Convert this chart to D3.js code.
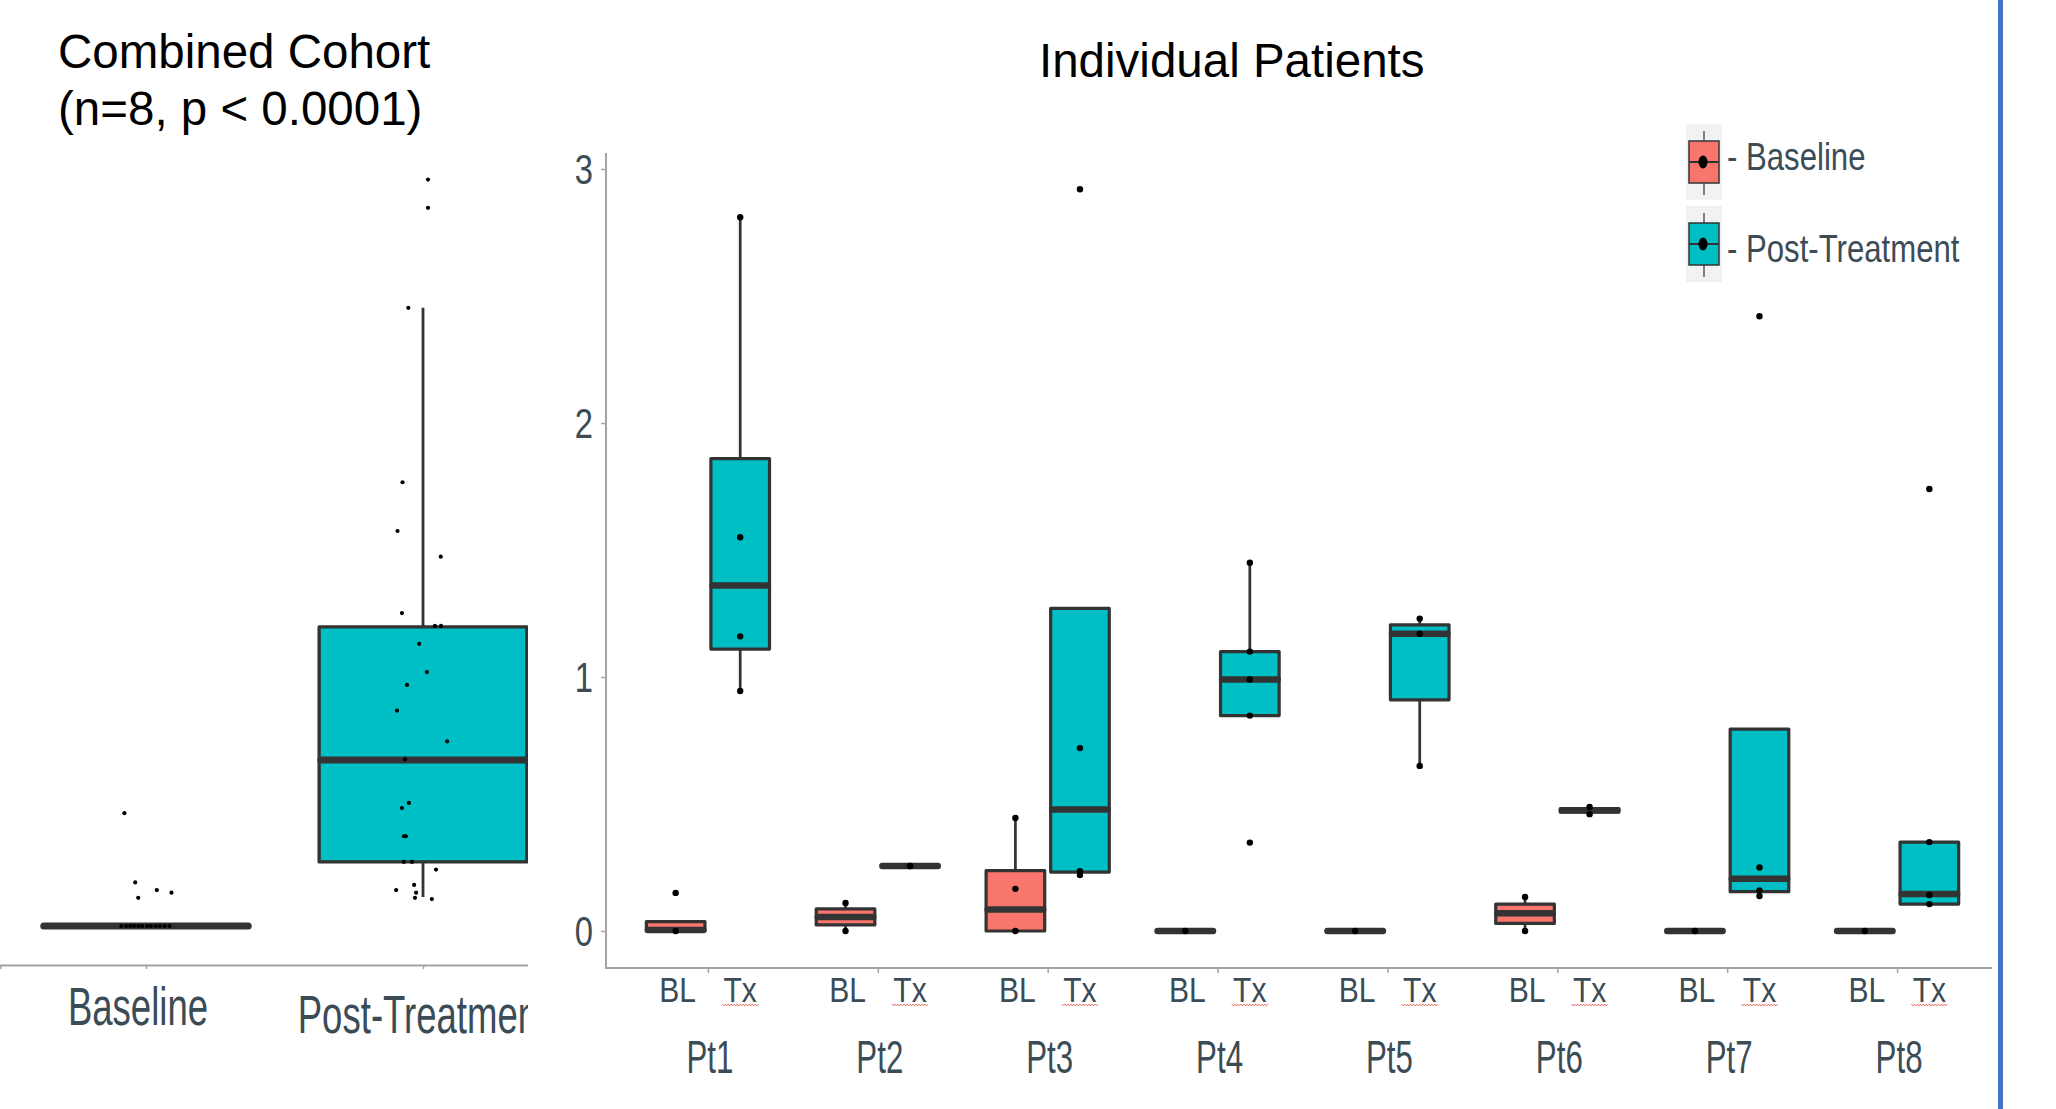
<!DOCTYPE html>
<html>
<head>
<meta charset="utf-8">
<script src="https://cdn.jsdelivr.net/npm/d3@7"></script>
<style>
    body { margin: 0; background: #ffffff; }
    svg { display: block; font-family: "Liberation Sans", Arial, sans-serif; }
</style>
</head>
<body>
<svg id="grafico" width="2056" height="1109"></svg>
<script>

// ---- datos: cohorte combinada ----
var gruposCombinados = ["Baseline", "Post-Treatment"];
// [bigote inf, q1, mediana, q3, bigote sup]
var cajaCombinada = [
    [0, 0, 0, 0, 0],
    [0.113, 0.25, 0.647, 1.166, 2.41]
];
var baselineValores = [0.44, 0.17, 0.11, 0.14, 0.13, 0, 0, 0, 0, 0, 0, 0, 0, 0, 0, 0, 0];
var baselineJitter = [-0.078, -0.039, -0.028, 0.039, 0.092, -0.089, -0.072, -0.057, -0.043, -0.028, -0.014, 0.004, 0.018, 0.035, 0.05, 0.067, 0.085];
var postValores = [2.91, 2.80, 2.41, 1.73, 1.54, 1.44, 1.22, 1.17, 1.17, 1.10, 0.99, 0.94, 0.84, 0.72, 0.65, 0.48, 0.46, 0.35, 0.35, 0.25, 0.25, 0.22, 0.16, 0.14, 0.13, 0.11, 0.105];
var postJitter = [0.018, 0.018, -0.053, -0.074, -0.092, 0.064, -0.076, 0.043, 0.065, -0.014, 0.014, -0.058, -0.094, 0.087, -0.065, -0.051, -0.076, -0.069, -0.062, -0.069, -0.040, 0.047, -0.032, -0.097, -0.025, -0.029, 0.032];

// ---- datos: pacientes individuales ----
var pacientes = ["Pt1", "Pt2", "Pt3", "Pt4", "Pt5", "Pt6", "Pt7", "Pt8"];
var subGrupos = ["BL", "Tx"];
var leyenda = ["Baseline", "Post-Treatment"];
var ticksY = [0, 1, 2, 3];

var cajaBL = [
    [0, 0, 0.004, 0.037, 0.037],
    [0, 0.024, 0.055, 0.087, 0.11],
    [0, 0, 0.085, 0.238, 0.445],
    [0, 0, 0, 0, 0],
    [0, 0, 0, 0, 0],
    [0, 0.03, 0.07, 0.106, 0.134],
    [0, 0, 0, 0, 0],
    [0, 0, 0, 0, 0]
];
var puntosBL = [
    [0, 0.15],
    [0, 0.11],
    [0, 0.166, 0.445],
    [0],
    [0],
    [0, 0.134],
    [0],
    [0]
];
var cajaTx = [
    [0.945, 1.11, 1.36, 1.86, 2.81],
    [0.256, 0.256, 0.256, 0.256, 0.256],
    [0.22, 0.232, 0.478, 1.27, 1.27],
    [0.848, 0.848, 0.99, 1.10, 1.45],
    [0.65, 0.91, 1.17, 1.205, 1.23],
    [0.46, 0.468, 0.475, 0.482, 0.49],
    [0.138, 0.155, 0.206, 0.795, 0.795],
    [0.106, 0.106, 0.146, 0.35, 0.35]
];
var puntosTx = [
    [0.945, 1.16, 1.55, 2.81],
    [0.256, 0.256],
    [0.22, 0.235, 0.72, 2.92],
    [0.348, 0.848, 0.99, 1.10, 1.45],
    [0.65, 1.17, 1.23],
    [0.46, 0.488],
    [0.138, 0.16, 0.25, 2.42],
    [0.106, 0.142, 0.35, 1.74]
];

// ---- estilos ----
var colorBL = "#F8766D";
var colorTx = "#00BFC4";
var colorBorde = "#333333";
var colorTexto = "#3b4c56";
var colorEje = "#a3a3a3";

var svg = d3.select("#grafico");

InicializaGrafico();


function InicializaGrafico() {
    dibujaPanelCombinado();
    dibujaPanelPacientes();
    dibujaLeyenda();

    // linea azul del borde de la diapositiva
    svg.append("rect")
        .attr("x", 1998).attr("y", 0)
        .attr("width", 5).attr("height", 1109)
        .attr("fill", "#4472c4");
}


function textoAngosto(g, x, y, txt, size, sx, anchor, color) {
    return g.append("text")
        .attr("transform", "translate(" + x + "," + y + ") scale(" + sx + ",1)")
        .attr("text-anchor", anchor)
        .attr("font-size", size)
        .attr("fill", color)
        .text(txt);
}


function dibujaCaja(g, cx, ancho, stats, y, relleno, lw, mw) {
    var lo = stats[0], q1 = stats[1], med = stats[2], q3 = stats[3], hi = stats[4];
    g.append("line")
        .attr("x1", cx).attr("x2", cx)
        .attr("y1", y(q3)).attr("y2", y(hi))
        .attr("stroke", colorBorde).attr("stroke-width", lw * 0.85);
    g.append("line")
        .attr("x1", cx).attr("x2", cx)
        .attr("y1", y(q1)).attr("y2", y(lo))
        .attr("stroke", colorBorde).attr("stroke-width", lw * 0.85);
    g.append("rect")
        .attr("x", cx - ancho / 2)
        .attr("y", y(q3))
        .attr("width", ancho)
        .attr("height", y(q1) - y(q3))
        .attr("fill", relleno)
        .attr("stroke", colorBorde)
        .attr("stroke-width", lw)
        .attr("stroke-linejoin", "round");
    g.append("line")
        .attr("x1", cx - ancho / 2 + lw / 2).attr("x2", cx + ancho / 2 - lw / 2)
        .attr("y1", y(med)).attr("y2", y(med))
        .attr("stroke", colorBorde)
        .attr("stroke-width", mw)
        .attr("stroke-linecap", "round");
}


function dibujaPanelCombinado() {
    svg.append("clipPath").attr("id", "clipIzq")
        .append("rect").attr("x", 0).attr("y", 0).attr("width", 528).attr("height", 1109);

    var g = svg.append("g").attr("clip-path", "url(#clipIzq)");

    var x = d3.scalePoint().domain(gruposCombinados).range([0, 569]).padding(0.527);
    var y = d3.scaleLinear().domain([0, 3]).range([926, 156.5]);
    var paso = x.step();
    var ancho = paso * 0.75;

    // eje x
    var eje = g.append("g")
        .attr("transform", "translate(0,965)")
        .call(d3.axisBottom(x).tickSize(4).tickFormat(""));
    eje.select(".domain").attr("stroke", colorEje).attr("stroke-width", 2);
    eje.selectAll(".tick line").attr("stroke", colorEje).attr("stroke-width", 1.5);

    gruposCombinados.forEach(function (d, i) {
        dibujaCaja(g, x(d), ancho, cajaCombinada[i], y, i == 0 ? colorBL : colorTx, 3.3, 7);
        textoAngosto(g, x(d) - (i == 0 ? 8 : 0), i == 0 ? 1025 : 1033, d, 53, 0.69, "middle", colorTexto);
    });

    g.selectAll(".ptoBase")
        .data(baselineValores)
        .enter().append("circle")
        .attr("cx", function (d, i) { return x("Baseline") + baselineJitter[i] * paso; })
        .attr("cy", function (d) { return y(d); })
        .attr("r", 2.1)
        .attr("fill", "#000");

    g.selectAll(".ptoPost")
        .data(postValores)
        .enter().append("circle")
        .attr("cx", function (d, i) { return x("Post-Treatment") + postJitter[i] * paso; })
        .attr("cy", function (d) { return y(d); })
        .attr("r", 2.1)
        .attr("fill", "#000");

    svg.append("text").attr("x", 58).attr("y", 68)
        .attr("font-size", 47.5).attr("fill", "#000").text("Combined Cohort");
    svg.append("text").attr("x", 58).attr("y", 125)
        .attr("font-size", 47.5).attr("fill", "#000").text("(n=8, p < 0.0001)");
}


function dibujaPanelPacientes() {
    var g = svg.append("g");

    var x = d3.scalePoint().domain(pacientes).range([606, 1999]).padding(0.6);
    var y = d3.scaleLinear().domain([0, 3]).range([931, 169]);
    var paso = x.step();
    var desplaza = paso * 0.19;
    var ancho = paso * 0.345;

    // eje y
    var ejeY = g.append("g")
        .attr("transform", "translate(606,0)")
        .call(d3.axisLeft(y).tickValues(ticksY).tickSize(5).tickFormat(""));
    ejeY.select(".domain").remove();
    ejeY.selectAll(".tick line").attr("stroke", colorEje).attr("stroke-width", 1.5);
    g.append("line")
        .attr("x1", 606).attr("x2", 606)
        .attr("y1", 153).attr("y2", 969)
        .attr("stroke", colorEje).attr("stroke-width", 2);
    ticksY.forEach(function (t) {
        textoAngosto(g, 593, y(t) + 15, t, 42, 0.78, "end", colorTexto);
    });

    // eje x
    var ejeX = g.append("g")
        .attr("transform", "translate(0,968)")
        .call(d3.axisBottom(x).tickSize(5).tickFormat(""));
    ejeX.select(".domain").remove();
    ejeX.selectAll(".tick line").attr("stroke", colorEje).attr("stroke-width", 1.5);
    g.append("line")
        .attr("x1", 605).attr("x2", 1992)
        .attr("y1", 968).attr("y2", 968)
        .attr("stroke", colorEje).attr("stroke-width", 2);

    pacientes.forEach(function (p, i) {
        var cBL = x(p) - desplaza;
        var cTx = x(p) + desplaza;

        dibujaCaja(g, cBL, ancho, cajaBL[i], y, colorBL, 3.2, 6.5);
        dibujaCaja(g, cTx, ancho, cajaTx[i], y, colorTx, 3.2, 6.5);

        puntosBL[i].forEach(function (v) {
            g.append("circle").attr("cx", cBL).attr("cy", y(v)).attr("r", 3.2).attr("fill", "#000");
        });
        puntosTx[i].forEach(function (v) {
            g.append("circle").attr("cx", cTx).attr("cy", y(v)).attr("r", 3.2).attr("fill", "#000");
        });

        textoAngosto(g, cBL + 2, 1002, subGrupos[0], 35, 0.86, "middle", colorTexto);
        textoAngosto(g, cTx, 1002, subGrupos[1], 35, 0.86, "middle", colorTexto);
        textoAngosto(g, x(p) + 2, 1073, p, 46, 0.68, "middle", colorTexto);

        // subrayado ondulado del corrector ortografico bajo "Tx"
        var ondas = [];
        for (var k = 0; k <= 24; k++) {
            ondas.push([cTx - 18 + k * 1.5, 1005 + (k % 2 == 0 ? -0.8 : 0.8)]);
        }
        g.append("path")
            .attr("d", d3.line()(ondas))
            .attr("fill", "none")
            .attr("stroke", "#e8483f")
            .attr("stroke-width", 0.9);
    });

    svg.append("text").attr("x", 1039).attr("y", 77)
        .attr("font-size", 47.5).attr("fill", "#000").text("Individual Patients");
}


function dibujaLeyenda() {
    var g = svg.append("g");
    var claves = [
        { top: 124, fill: colorBL },
        { top: 206, fill: colorTx }
    ];
    claves.forEach(function (c, i) {
        var cx = 1704;
        var medio = c.top + 38;
        g.append("rect")
            .attr("x", 1686).attr("y", c.top)
            .attr("width", 36).attr("height", 76)
            .attr("fill", "#f2f2f2");
        g.append("line")
            .attr("x1", cx).attr("x2", cx)
            .attr("y1", c.top + 7).attr("y2", c.top + 71)
            .attr("stroke", colorBorde).attr("stroke-width", 1.2);
        g.append("rect")
            .attr("x", 1689).attr("y", medio - 21)
            .attr("width", 30).attr("height", 42)
            .attr("fill", c.fill)
            .attr("stroke", colorBorde).attr("stroke-width", 1.5);
        g.append("line")
            .attr("x1", 1689).attr("x2", 1719)
            .attr("y1", medio).attr("y2", medio)
            .attr("stroke", colorBorde).attr("stroke-width", 2);
        g.append("ellipse")
            .attr("cx", cx - 1).attr("cy", medio)
            .attr("rx", 4.5).attr("ry", 6.5)
            .attr("fill", "#000");
        textoAngosto(g, 1727, c.top + 46 + (i == 1 ? 10 : 0), "- " + leyenda[i], 38, 0.82, "start", colorTexto);
    });
}

</script>
</body>
</html>
